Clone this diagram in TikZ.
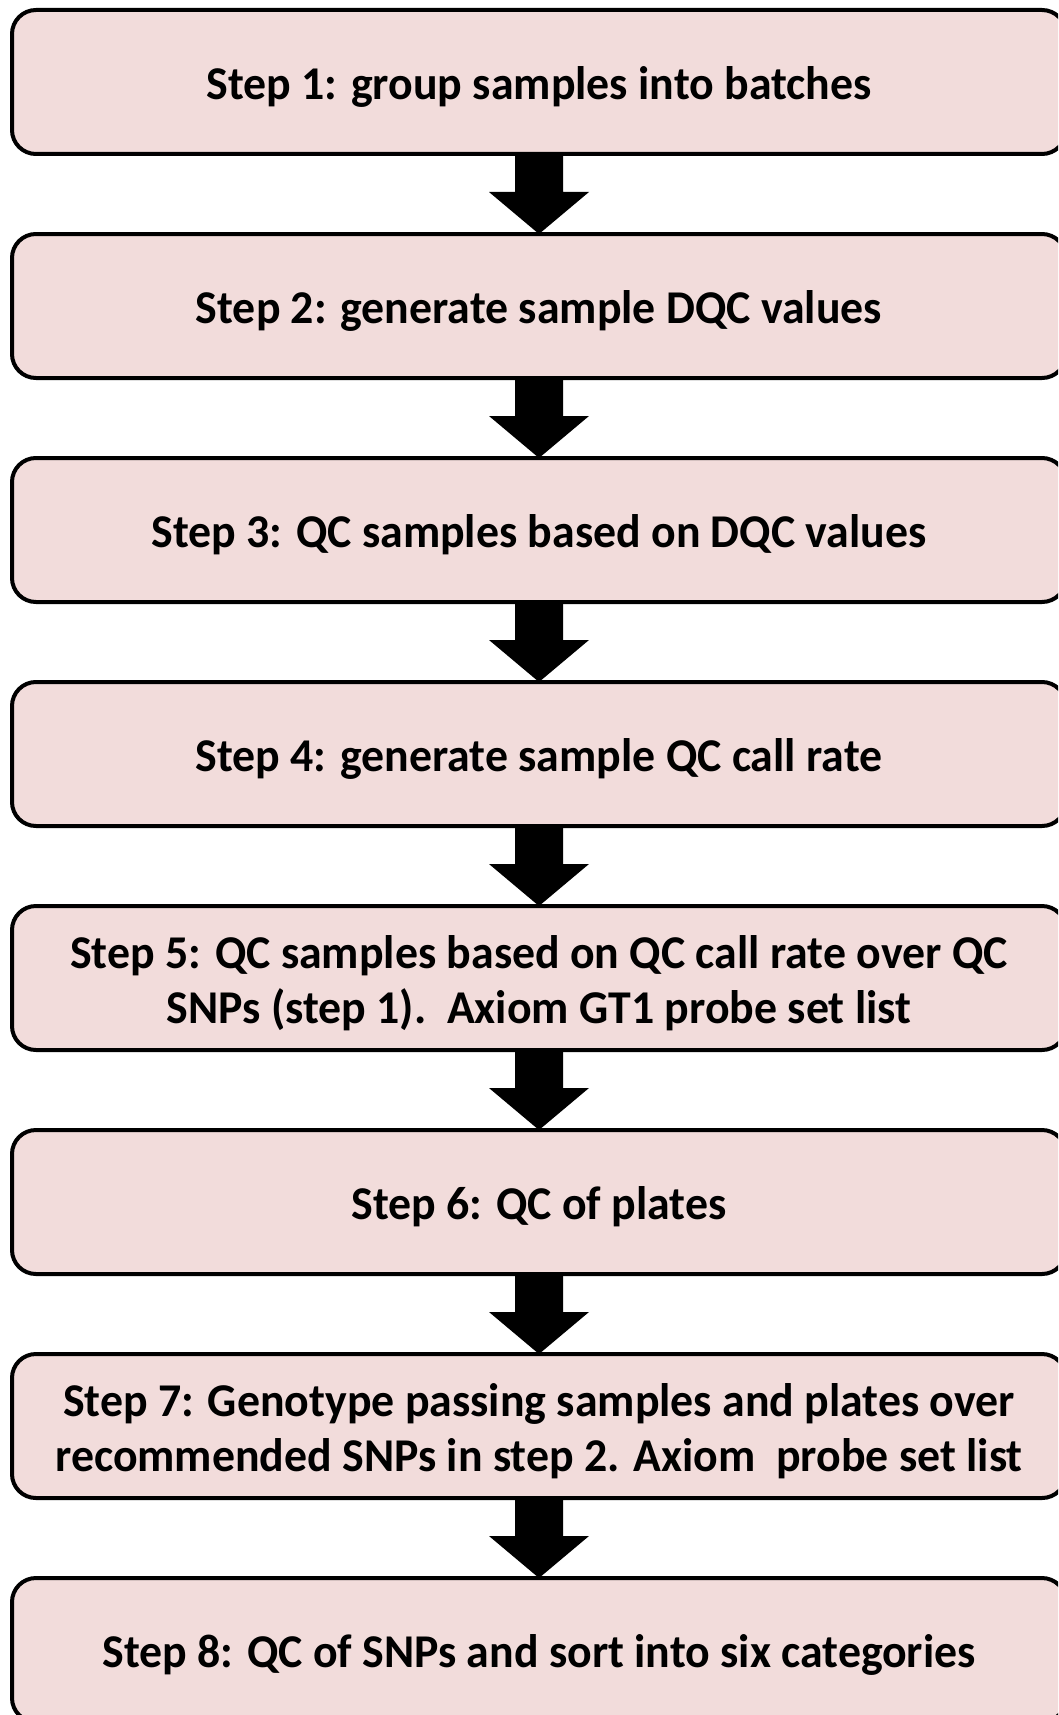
\documentclass[tikz,border=0pt]{standalone}
\usepackage{fontspec}
\setmainfont{Carlito}[FakeStretch=0.975]
\usetikzlibrary{calc}
\definecolor{boxfill}{RGB}{242,220,219}
\tikzset{
  stepbox/.style={rectangle, rounded corners=24pt, draw=black, line width=4pt,
    fill=boxfill, minimum width=1054pt, minimum height=144pt, outer sep=0pt,
    align=center, inner sep=0pt,
    font=\fontsize{47}{55}\selectfont\bfseries},
  steptext/.style={align=center, inner sep=0pt, yshift=-5pt,
    font=\fontsize{47}{55}\selectfont\bfseries},
  flowarrow/.style={fill=black}
}
% block arrow from the bottom of one box to the top of the next
\newcommand{\downarrowshape}[2]{%
  \fill[flowarrow] ($(#1.south)+(-24,0)$) -- ($(#2.north)+(-24,-42)$)
    -- ($(#2.north)+(-50,-42)$) -- (#2.north) -- ($(#2.north)+(50,-42)$)
    -- ($(#2.north)+(24,-42)$) -- ($(#1.south)+(24,0)$) -- cycle;}
\begin{document}
\begin{tikzpicture}[x=1pt,y=-1pt]
  \useasboundingbox (0,0) rectangle (1058,1715);
  \clip (0,0) rectangle (1058,1715);
  \fill[white] (0,0) rectangle (1058,1715);
  \node[stepbox] (s1) at (539,82)   {};
  \node[stepbox] (s2) at (539,306)  {};
  \node[stepbox] (s3) at (539,530)  {};
  \node[stepbox] (s4) at (539,754)  {};
  \node[stepbox] (s5) at (539,978)  {};
  \node[stepbox] (s6) at (539,1202) {};
  \node[stepbox] (s7) at (539,1426) {};
  \node[stepbox] (s8) at (539,1650) {};
  \node[steptext] (t1) at (s1.center) {Step 1: group samples into batches};
  \node[steptext] (t2) at (s2.center) {Step 2: generate sample DQC values};
  \node[steptext] (t3) at (s3.center) {Step 3: QC samples based on DQC values};
  \node[steptext] (t4) at (s4.center) {Step 4: generate sample QC call rate};
  \node[steptext] (t5) at (s5.center) {Step 5: QC samples based on QC call rate over QC\\SNPs (step 1).\ \ Axiom GT1 probe set list};
  \node[steptext] (t6) at (s6.center) {Step 6: QC of plates};
  \node[steptext] (t7) at (s7.center) {Step 7: Genotype passing samples and plates over\\recommended SNPs in step 2. Axiom\ \ probe set list};
  \node[steptext] (t8) at (s8.center) {Step 8: QC of SNPs and sort into six categories};
  \downarrowshape{s1}{s2}
  \downarrowshape{s2}{s3}
  \downarrowshape{s3}{s4}
  \downarrowshape{s4}{s5}
  \downarrowshape{s5}{s6}
  \downarrowshape{s6}{s7}
  \downarrowshape{s7}{s8}
\end{tikzpicture}
\end{document}
